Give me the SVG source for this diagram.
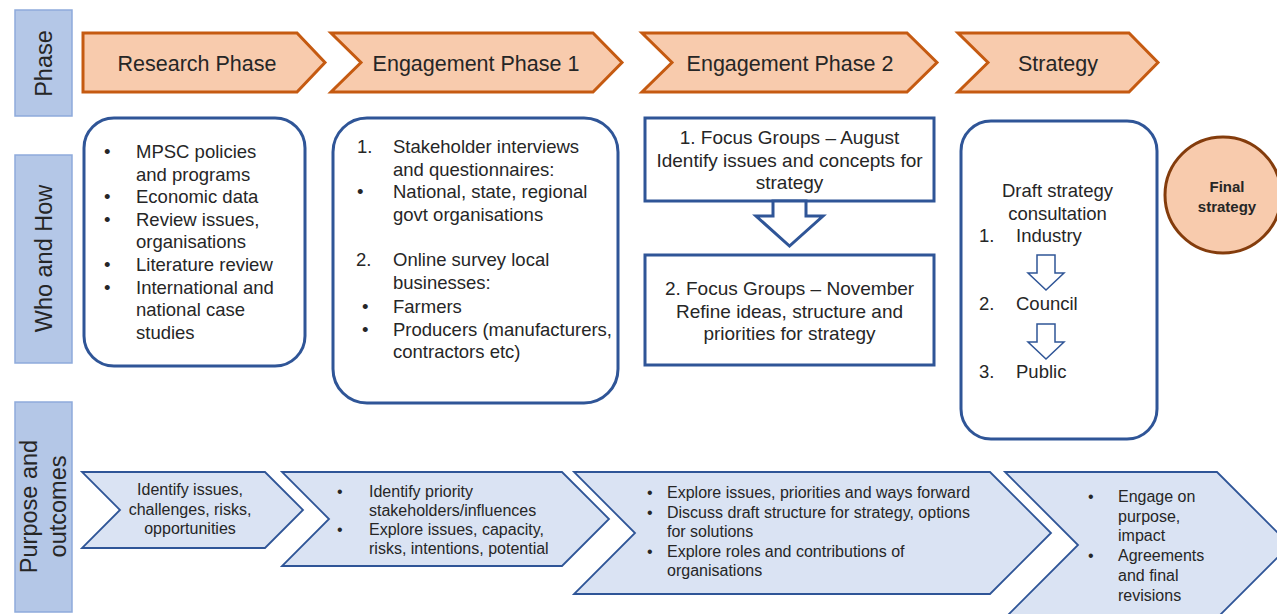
<svg xmlns="http://www.w3.org/2000/svg" width="1277" height="614" viewBox="0 0 1277 614">
  <style>
    text { font-family: "Liberation Sans", Arial, sans-serif; fill: #262626; }
    .lane { fill: #b4c7e7; stroke: #8eaadb; stroke-width: 1.5; }
    .lane-t { font-size: 23.5px; text-anchor: middle; }
    .phase { fill: #f8cbad; stroke: #c55a11; stroke-width: 3; stroke-linejoin: miter; }
    .phase-t { font-size: 21.5px; text-anchor: middle; }
    .card { fill: #ffffff; stroke: #2f5597; stroke-width: 3; }
    .body { font-size: 18.5px; }
    .mid { text-anchor: middle; }
    .goal { fill: #dae3f3; stroke: #2f5597; stroke-width: 1.8; stroke-linejoin: miter; }
    .small { font-size: 16px; }
    .flow { fill: #ffffff; stroke: #2f5597; stroke-linejoin: miter; }
    .final { fill: #f8cbad; stroke: #843c0c; stroke-width: 3; }
  </style>

  <rect width="1277" height="614" fill="#ffffff"/>

  <!-- Row labels -->
  <g id="lane-phase">
    <rect class="lane" x="15" y="10" width="57" height="106"/>
    <text class="lane-t" transform="translate(52,63.5) rotate(-90)">Phase</text>
  </g>
  <g id="lane-who">
    <rect class="lane" x="15" y="155" width="57" height="208"/>
    <text class="lane-t" transform="translate(52,258.5) rotate(-90)">Who and How</text>
  </g>
  <g id="lane-purpose">
    <rect class="lane" x="15" y="402" width="57" height="210"/>
    <text class="lane-t" transform="translate(37,506.5) rotate(-90)">Purpose and</text>
    <text class="lane-t" transform="translate(66,506.5) rotate(-90)">outcomes</text>
  </g>

  <!-- Phase banner -->
  <g id="phase-research">
    <polygon class="phase" points="83,33 297,33 325,62.5 297,92 83,92"/>
    <text class="phase-t" x="197" y="71">Research Phase</text>
  </g>
  <g id="phase-engagement-1">
    <polygon class="phase" points="331,33 593,33 622,62.5 593,92 331,92 361,62.5"/>
    <text class="phase-t" x="476" y="71">Engagement Phase 1</text>
  </g>
  <g id="phase-engagement-2">
    <polygon class="phase" points="642,33 907,33 937,62.5 907,92 642,92 672,62.5"/>
    <text class="phase-t" x="790" y="71">Engagement Phase 2</text>
  </g>
  <g id="phase-strategy">
    <polygon class="phase" points="958,33 1129,33 1158,62.5 1129,92 958,92 988,62.5"/>
    <text class="phase-t" x="1058" y="71">Strategy</text>
  </g>

  <!-- Who and how -->
  <g id="research-sources">
    <rect class="card" x="84" y="118" width="221" height="248" rx="30"/>
    <g class="body">
      <text x="104" y="158">•</text><text x="136" y="158">MPSC policies</text>
      <text x="136" y="180.6">and programs</text>
      <text x="104" y="203.2">•</text><text x="136" y="203.2">Economic data</text>
      <text x="104" y="225.8">•</text><text x="136" y="225.8">Review issues,</text>
      <text x="136" y="248.4">organisations</text>
      <text x="104" y="271">•</text><text x="136" y="271">Literature review</text>
      <text x="104" y="293.6">•</text><text x="136" y="293.6">International and</text>
      <text x="136" y="316.2">national case</text>
      <text x="136" y="338.8">studies</text>
    </g>
  </g>

  <g id="engagement-1-methods">
    <rect class="card" x="333" y="118" width="285" height="285" rx="34"/>
    <g class="body">
      <text x="357" y="153">1.</text><text x="393" y="153">Stakeholder interviews</text>
      <text x="393" y="175.6">and questionnaires:</text>
      <text x="357" y="198.2">•</text><text x="393" y="198.2">National, state, regional</text>
      <text x="393" y="220.8">govt organisations</text>
      <text x="356" y="266">2.</text><text x="393" y="266">Online survey local</text>
      <text x="393" y="288.6">businesses:</text>
      <text x="362" y="313">•</text><text x="393" y="313">Farmers</text>
      <text x="362" y="335.6">•</text><text x="393" y="335.6">Producers (manufacturers,</text>
      <text x="393" y="358.2">contractors etc)</text>
    </g>
  </g>

  <g id="focus-groups-august">
    <rect class="card" x="645" y="118" width="289" height="83"/>
    <g class="body mid">
      <text x="789.5" y="144" font-size="19px">1. Focus Groups – August</text>
      <text x="789.5" y="166.5" font-size="19px">Identify issues and concepts for</text>
      <text x="789.5" y="189" font-size="19px">strategy</text>
    </g>
  </g>

  <g id="focus-groups-november">
    <rect class="card" x="645" y="255" width="289" height="110"/>
    <g class="body mid">
      <text x="789.5" y="295" font-size="19px">2. Focus Groups – November</text>
      <text x="789.5" y="317.5" font-size="19px">Refine ideas, structure and</text>
      <text x="789.5" y="340" font-size="19px">priorities for strategy</text>
    </g>
  </g>

  <g id="draft-consultation">
    <rect class="card" x="961" y="121" width="196" height="318" rx="30"/>
    <g class="body">
      <text class="mid" x="1057.5" y="197">Draft strategy</text>
      <text class="mid" x="1057.5" y="219.5">consultation</text>
      <text x="979" y="242">1.</text><text x="1016" y="242">Industry</text>
      <text x="979" y="310">2.</text><text x="1016" y="310">Council</text>
      <text x="979" y="378">3.</text><text x="1016" y="378">Public</text>
    </g>
  </g>

  <g id="final-strategy">
    <circle class="final" cx="1223" cy="195" r="58"/>
    <text class="mid" x="1227" y="192" font-size="15px" font-weight="bold">Final</text>
    <text class="mid" x="1227" y="212" font-size="15px" font-weight="bold">strategy</text>
  </g>

  <!-- Purpose and outcomes -->
  <g id="outcome-research">
    <polygon class="goal" points="82,472 265,472 303,510 265,548 82,548 120,510"/>
    <g class="small mid">
      <text x="190" y="495">Identify issues,</text>
      <text x="190" y="514.5">challenges,  risks,</text>
      <text x="190" y="534">opportunities</text>
    </g>
  </g>
  <g id="outcome-engagement-1">
    <polygon class="goal" points="282,472 562,472 609,519 562,566 282,566 329,519"/>
    <g class="small">
      <text x="337" y="497">•</text><text x="369" y="497">Identify priority</text>
      <text x="369" y="516">stakeholders/influences</text>
      <text x="337" y="535">•</text><text x="369" y="535">Explore issues, capacity,</text>
      <text x="369" y="554">risks, intentions,  potential</text>
    </g>
  </g>
  <g id="outcome-engagement-2">
    <polygon class="goal" points="574,472 990,472 1051,533 990,594 574,594 635,533"/>
    <g class="small">
      <text x="647" y="498">•</text><text x="667" y="498">Explore issues, priorities and ways forward</text>
      <text x="647" y="517.5">•</text><text x="667" y="517.5">Discuss draft structure for strategy, options</text>
      <text x="667" y="537">for solutions</text>
      <text x="647" y="556.5">•</text><text x="667" y="556.5">Explore roles and contributions of</text>
      <text x="667" y="576">organisations</text>
    </g>
  </g>
  <g id="outcome-strategy">
    <polygon class="goal" points="1005,472 1217,472 1290,545 1217,618 1005,618 1078,545"/>
    <g class="small">
      <text x="1088" y="502">•</text><text x="1118" y="502">Engage on</text>
      <text x="1118" y="521.7">purpose,</text>
      <text x="1118" y="541.4">impact</text>
      <text x="1088" y="561">•</text><text x="1118" y="561">Agreements</text>
      <text x="1118" y="580.8">and final</text>
      <text x="1118" y="600.5">revisions</text>
    </g>
  </g>

  <!-- Connectors -->
  <g id="connectors">
    <polygon class="flow" stroke-width="3" points="773,201 806,201 806,216 823,216 789.5,246 756,216 773,216"/>
    <polygon class="flow" stroke-width="1.5" points="1037,255 1055,255 1055,273 1064,273 1046,290 1028,273 1037,273"/>
    <polygon class="flow" stroke-width="1.5" points="1037,324 1055,324 1055,342 1064,342 1046,359 1028,342 1037,342"/>
  </g>
</svg>
